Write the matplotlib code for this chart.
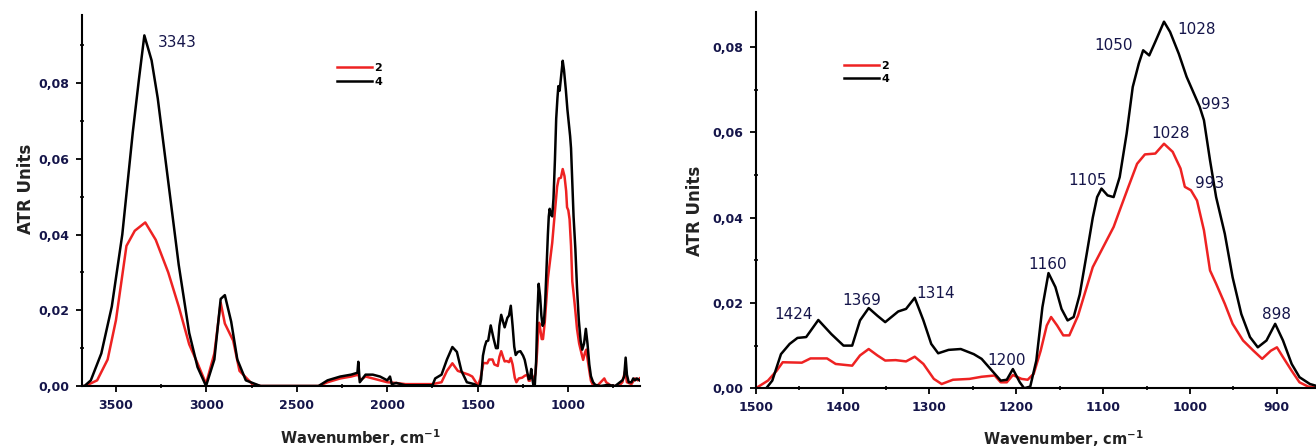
import matplotlib
matplotlib.use("Agg")
import matplotlib.pyplot as plt
from matplotlib.ticker import MultipleLocator, FuncFormatter

# sample 4 (black)
wn4 = [3690, 3674, 3639, 3581, 3523, 3465, 3407, 3373, 3343, 3303, 3269, 3211, 3153, 3095, 3049, 3002,
       2956, 2921, 2898, 2863, 2829, 2782, 2701, 2380, 2330, 2260, 2200, 2165, 2160, 2152, 2120, 2080,
       2040, 2000, 1985, 1975, 1950, 1900, 1750, 1735, 1700, 1670, 1640, 1615, 1590, 1560, 1520, 1500,
       1488, 1481, 1471, 1461, 1452, 1442, 1428, 1413, 1399, 1389, 1380, 1370, 1360, 1351, 1336, 1327,
       1317, 1307, 1298, 1290, 1278, 1264, 1249, 1240, 1228, 1218, 1211, 1204, 1196, 1191, 1184, 1177,
       1170, 1163, 1155, 1148, 1141, 1134, 1127, 1119, 1112, 1107, 1102, 1095, 1088, 1081, 1073, 1066,
       1059, 1054, 1047, 1040, 1030, 1023, 1013, 1004, 994, 989, 984, 977, 970, 960, 951, 941,
       931, 922, 912, 902, 893, 883, 874, 862, 850, 820, 780, 740, 700, 690, 682, 675,
       665, 650, 640, 630, 620, 605]
ab4 = [0, 0, 0.0015, 0.0086, 0.021, 0.040, 0.067, 0.081, 0.0926, 0.086, 0.076, 0.054, 0.032, 0.014, 0.005, 0,
       0.007, 0.023, 0.024, 0.017, 0.007, 0.0015, 0, 0, 0.0015, 0.0025, 0.003, 0.0035, 0.0064, 0.001, 0.003, 0.003,
       0.0025, 0.0015, 0.0025, 0.0005, 0.0008, 0.0002, 0.0002, 0.002, 0.003, 0.007, 0.0103, 0.009, 0.004, 0.001, 0.0005, 0,
       0, 0.0018, 0.008, 0.0104, 0.0118, 0.012, 0.016, 0.0127, 0.010, 0.010, 0.0159, 0.0188, 0.017, 0.0155, 0.018, 0.0186,
       0.0212, 0.0159, 0.0104, 0.0082, 0.009, 0.0092, 0.008, 0.0069, 0.0041, 0.0018, 0.002, 0.0045, 0.0014, 0, 0.0004, 0.0065,
       0.019, 0.027, 0.0237, 0.0186, 0.0159, 0.0167, 0.022, 0.0315, 0.040, 0.0448, 0.0468, 0.0452, 0.0448, 0.0495, 0.0597, 0.0706,
       0.0761, 0.0792, 0.078, 0.0812, 0.0859, 0.0835, 0.0784, 0.073, 0.0683, 0.066, 0.0628, 0.0534, 0.0448, 0.0362, 0.026, 0.0174,
       0.012, 0.0096, 0.0112, 0.0151, 0.0112, 0.0057, 0.0026, 0.001, 0.0003, 0, 0.0003, 0, 0.0015, 0.0025, 0.0075, 0.003,
       0.001, 0.001, 0.002, 0.0015, 0.002, 0.0015]

# sample 2 (red)
wn2 = [3690, 3670, 3604, 3546, 3500, 3442, 3396, 3338, 3280, 3211, 3153, 3095, 3049, 3002, 2956, 2921,
       2898, 2852, 2817, 2748, 2700, 2380, 2330, 2260, 2200, 2160, 2150, 2120, 2080, 2040, 2000, 1950,
       1900, 1750, 1700, 1670, 1640, 1610, 1580, 1550, 1530, 1510, 1500, 1486, 1476, 1469, 1447, 1437,
       1418, 1408, 1389, 1380, 1370, 1360, 1351, 1339, 1327, 1317, 1307, 1295, 1286, 1273, 1254, 1240,
       1225, 1218, 1211, 1204, 1194, 1187, 1180, 1172, 1165, 1160, 1153, 1146, 1139, 1129, 1119, 1112,
       1100, 1088, 1081, 1071, 1061, 1052, 1040, 1030, 1020, 1011, 1006, 999, 992, 984, 977, 970,
       960, 951, 939, 927, 917, 907, 900, 893, 883, 874, 864, 840, 810, 800, 790, 760,
       720, 700, 685, 675, 650, 630, 615, 605]
ab2 = [0, 0, 0.0015, 0.007, 0.0174, 0.037, 0.041, 0.0432, 0.0386, 0.030, 0.021, 0.011, 0.006, 0.0006, 0.0086, 0.022,
       0.0165, 0.012, 0.004, 0.0006, 0, 0, 0.001, 0.002, 0.0025, 0.003, 0.0015, 0.0025, 0.002, 0.0015, 0.001, 0.0008,
       0.0005, 0.0005, 0.001, 0.004, 0.006, 0.004, 0.0035, 0.003, 0.0025, 0.001, 0, 0.0018, 0.0041, 0.0061, 0.006, 0.007,
       0.007, 0.0057, 0.0053, 0.0077, 0.0092, 0.0077, 0.0065, 0.0066, 0.0063, 0.0074, 0.0057, 0.0022, 0.001, 0.002, 0.0022, 0.0027,
       0.003, 0.0014, 0.0014, 0.0031, 0.0022, 0.002, 0.0034, 0.0088, 0.0147, 0.0167, 0.0147, 0.0124, 0.0124, 0.017, 0.0237, 0.0284,
       0.0331, 0.0378, 0.0417, 0.0472, 0.0526, 0.0548, 0.055, 0.0573, 0.0554, 0.0515, 0.0472, 0.0464, 0.044, 0.037, 0.0276, 0.0245,
       0.0198, 0.0151, 0.0112, 0.0088, 0.0069, 0.0088, 0.0096, 0.0073, 0.0041, 0.0014, 0.0004, 0, 0.0015, 0.002, 0.001, 0,
       0, 0.001, 0.004, 0.001, 0.0005, 0.002, 0.0015, 0.002]

# peak labels: (text, x, y)
left_peaks = [("3343", 3268, 0.0908)]
right_peaks = [("1424", 1456, 0.0174), ("1369", 1378, 0.0206), ("1314", 1293, 0.0223),
               ("1200", 1211, 0.0065), ("1160", 1164, 0.0290), ("1105", 1118, 0.0487),
               ("1050", 1088, 0.0804), ("1028", 992, 0.0841), ("993", 970, 0.0665),
               ("1028", 1023, 0.0597), ("993", 977, 0.0480), ("898", 900, 0.0174)]

navy = "#15154a"
comma = FuncFormatter(lambda v, p: f"{v:.2f}".replace(".", ","))

fig = plt.figure(figsize=(13.16, 4.46), dpi=100)
ax1 = fig.add_axes([0.062, 0.1345, 0.424, 0.832])
ax2 = fig.add_axes([0.5743, 0.1294, 0.4257, 0.844])

def style(ax, xlim, ylim, xmaj, xmin):
    ax.plot(wn2, ab2, color="#ee2222", lw=1.8, label="2")
    ax.plot(wn4, ab4, color="black", lw=1.8, label="4")
    ax.set_xlim(*xlim)
    ax.set_ylim(*ylim)
    for s in ["top", "right"]:
        ax.spines[s].set_visible(False)
    for s in ["left", "bottom"]:
        ax.spines[s].set_linewidth(1.5)
    ax.xaxis.set_major_locator(MultipleLocator(xmaj))
    ax.xaxis.set_minor_locator(MultipleLocator(xmin))
    ax.yaxis.set_major_locator(MultipleLocator(0.02))
    ax.yaxis.set_minor_locator(MultipleLocator(0.01))
    ax.yaxis.set_major_formatter(comma)
    ax.tick_params(which="major", direction="out", length=4, width=1.3, labelsize=9, labelcolor=navy, pad=5)
    ax.tick_params(which="minor", direction="inout", length=2.5, width=1.2)
    for lab in ax.get_xticklabels() + ax.get_yticklabels():
        lab.set_fontweight("bold")
    ax.set_ylabel("ATR Units", fontsize=12, fontweight="bold", color="#222222")
    ax.set_xlabel("Wavenumber, cm$^{\\mathbf{-1}}$", fontsize=10.5, fontweight="bold", color="#222222")

style(ax1, (3690, 605), (0, 0.098), 500, 250)
style(ax2, (1500, 855), (0, 0.0882), 100, 50)
ax1.yaxis.set_label_coords(-0.083, 0.53)
ax2.yaxis.set_label_coords(-0.092, 0.47)
ax1.xaxis.set_label_coords(0.5, -0.11)
ax2.xaxis.set_label_coords(0.55, -0.105)

for t, x, y in left_peaks:
    ax1.text(x, y, t, fontsize=11, color=navy, ha="left", va="center")
for t, x, y in right_peaks:
    ax2.text(x, y, t, fontsize=11, color=navy, ha="center", va="center")

leg_kw = dict(loc="upper left", frameon=False, handlelength=3.2, handletextpad=0.2,
              borderpad=0, labelspacing=0.3, prop={"size": 8, "weight": "bold"})
ax1.legend(bbox_to_anchor=(0.447, 0.885), **leg_kw)
ax2.legend(bbox_to_anchor=(0.147, 0.885), **leg_kw)

fig.savefig("out.png", dpi=100)
